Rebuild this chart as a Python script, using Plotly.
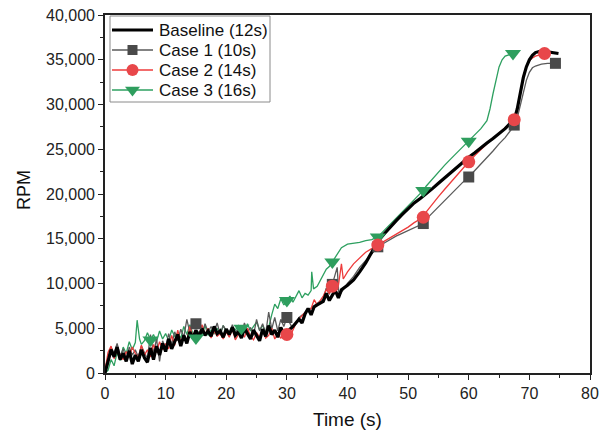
import numpy as np
import plotly.graph_objects as go

# ---------------- data ----------------
t_noisy = [i * 0.5 for i in range(61)]  # 0 .. 30 s

base_t = t_noisy + [31, 32, 32.5, 33, 33.5, 34, 34.5, 35, 36, 36.5, 37, 37.5, 38, 38.5, 39, 40, 41, 42,
                    43, 44, 45, 46, 47, 48, 49, 50, 51, 52, 53, 54, 55, 56, 57, 58, 59, 60, 61, 62,
                    63, 64, 65, 66, 67, 67.5, 68, 68.5, 69, 69.5, 70, 70.5, 71, 72, 73, 74, 74.8]
base_v = [0, 1200, 2600, 1800, 2900, 1500, 2200, 1300, 2500, 1000, 2000, 1300, 2600, 1700, 1200, 2800,
          1500, 3000, 2000, 3300, 2400, 3800, 2700, 3500, 4300, 3000, 4200, 3300, 4600, 3900, 4800,
          4000, 5000, 4200, 4700, 4100, 5200, 4400, 4700, 4000, 4900, 4300, 5100, 4200, 4600, 3900,
          5000, 4400, 3800, 4800, 4200, 3600, 4900, 4100, 5300, 4300, 4800, 4000, 5100, 4400, 4600,
          5200, 6000, 5600, 6600, 7200, 6500, 7400, 7600, 8000, 8900, 8100, 8700, 9200, 8400, 9300,
          9800, 10400, 11300, 12300, 13500, 14700, 15500, 16300, 17000, 17700, 18400, 19000, 19500,
          20000, 20600, 21200, 21800, 22400, 23000, 23500, 24100, 24600, 25200, 25700, 26200, 26700,
          27300, 28000, 28300, 29500, 31500, 33000, 34200, 35000, 35500, 35800, 36000, 35900, 35800,
          35700]

c1_t = t_noisy + [30.5, 31, 32, 33, 34, 35, 36, 36.5, 37, 37.5, 38.3, 38.6, 39, 40, 41, 42, 43, 44, 45,
                  46, 47, 48, 49, 50, 51, 52, 52.5, 53, 54, 55, 56, 57, 58, 59, 60, 61, 62, 63, 64,
                  65, 66, 67, 67.5, 68, 68.5, 69, 69.5, 70, 70.5, 71, 72, 73, 74.3]
c1_v = [500, 1800, 2900, 2200, 3300, 1900, 2700, 1500, 2900, 2000, 2600, 1800, 3000, 2300, 1600, 4300,
        2200, 3800, 1300, 3600, 2800, 4400, 3200, 4600, 3600, 4900, 4000, 6000, 4500, 5900, 5500,
        5800, 4400, 5500, 4600, 5200, 4500, 5600, 4300, 5300, 4700, 4200, 5400, 4500, 5000, 4400,
        5600, 4600, 5100, 4200, 6000, 4700, 5500, 4400, 6800, 4900, 6200, 4700, 6000, 5200, 6200,
        5500, 4900, 6200, 6700, 7300, 7800, 8300, 9500, 8800, 9900, 11800, 8500, 9000, 10000,
        10800, 11800, 12600, 13400, 14100, 14500, 14900, 15300, 15600, 15900, 16200, 16500, 16700,
        17200, 17900, 18600, 19300, 20000, 20600, 21300, 21900, 22600, 23300, 24000, 24800, 25600,
        26300, 27200, 27700, 28500, 29800, 31300, 32700, 33600, 34100, 34300, 34500, 34600, 34600]

c2_t = t_noisy + [30.5, 31, 31.5, 32, 33, 34, 34.5, 35, 36, 36.5, 37, 37.5, 38, 38.5, 39, 39.3, 40, 41,
                  42, 43, 44, 45, 46, 47, 48, 49, 50, 51, 52, 52.5, 53, 54, 55, 56, 57, 58, 59, 60,
                  61, 62, 63, 64, 65, 66, 67, 67.5, 68, 68.5, 69, 69.5, 70, 70.5, 71, 72, 72.5]
c2_v = [300, 2300, 3000, 1600, 2600, 2100, 1500, 2400, 1800, 2900, 2200, 1700, 3100, 2000, 2600, 1800,
        3200, 2300, 3500, 2600, 3300, 2700, 4200, 3100, 4800, 3400, 4200, 3600, 5200, 4000, 4600,
        4200, 5400, 4300, 5000, 3900, 4700, 4100, 4400, 3800, 4600, 4000, 4900, 3700, 4300, 4600,
        4000, 5000, 4100, 3700, 4500, 4000, 4800, 3900, 4200, 5000, 3800, 4400, 3900, 4200, 4300,
        4000, 4800, 5600, 6000, 6800, 7200, 8200, 7600, 8600, 9300, 8900, 9700, 10300, 9800, 12200,
        10500, 11300, 12200, 12900, 13500, 13900, 14300, 14700, 15100, 15500, 15900, 16300, 16800,
        17200, 17400, 18000, 18900, 19700, 20500, 21300, 22100, 22900, 23600, 24300, 25000, 25600,
        26200, 26800, 27400, 28000, 28300, 29500, 31500, 33200, 34300, 34900, 35200, 35400, 35600,
        35700]

c3_t = [0, 0.5, 1, 1.5, 2, 2.5, 3, 3.5, 4, 4.5, 5, 5.3, 5.7, 6, 6.5, 7, 7.5, 8, 8.5, 9, 9.5, 10,
        10.5, 11, 11.5, 12, 12.5, 13, 13.5, 14, 14.5, 15, 15.5, 16, 16.5, 17, 17.5, 18, 18.5, 19,
        19.5, 20, 20.5, 21, 21.5, 22, 22.5, 23, 23.5, 24, 24.5, 25, 25.5, 26, 26.5, 27, 27.5, 28,
        28.5, 29, 29.5, 30, 30.5, 31, 31.5, 32, 32.5, 33, 33.5, 34, 34.1, 34.4, 35, 36, 36.5, 37,
        37.5, 38, 39, 40, 41, 42, 43, 44, 45, 46, 47, 48, 49, 50, 51, 52, 52.5, 53, 54, 55, 56, 57,
        58, 59, 60, 61, 62, 63, 63.5, 64, 64.5, 65, 65.5, 66, 67.3]
c3_v = [0, 300, 1500, 800, 2300, 1400, 2900, 2200, 3500, 2600, 3400, 5900, 3800, 3200, 3600, 4500,
        3700, 4300, 3500, 4700, 3800, 4400, 3600, 4800, 4100, 4500, 3900, 5200, 4300, 5400, 4400,
        3900, 4600, 4300, 5300, 4200, 4800, 4400, 5000, 4300, 5300, 4600, 4400, 5200, 4800, 5300,
        5000, 4500, 5500, 4700, 5200, 5700, 4800, 5300, 4600, 5100, 6500, 7700, 7200, 8300, 7600,
        8100, 8600, 7900, 8500, 9200, 8400, 8900, 8700, 9200, 11300, 9400, 9700, 11000, 11600,
        11900, 12400, 13000, 14000, 14400, 14500, 14600, 14800, 14900, 15200, 15900, 16600, 17300,
        17900, 18600, 19300, 20000, 20400, 20900, 21700, 22500, 23200, 23900, 24600, 25200, 25900,
        26600, 27300, 28200, 29500, 31200, 32800, 34200, 35000, 35400, 35700]

# times at which the symbols are drawn on each case
c1_mark_t = [15, 30, 37.5, 45, 52.5, 60, 67.5, 74.3]
c2_mark_t = [30, 37.5, 45, 52.5, 60, 67.5, 72.5]
c3_mark_t = [7.5, 15, 22.5, 30, 37.5, 45, 52.5, 60, 67.3]

names = ["Baseline (12s)", "Case 1 (10s)", "Case 2 (14s)", "Case 3 (16s)"]

x_ticks = [0, 10, 20, 30, 40, 50, 60, 70, 80]
y_ticks = [0, 5000, 10000, 15000, 20000, 25000, 30000, 35000, 40000]

# ---------------- figure ----------------
FONT = "Liberation Sans, Arial, sans-serif"
W, H = 608, 436
ML, MR, MT, MB = 105, 18, 15, 63
fig = go.Figure()


def pick(ts, vs, mts):
    ts = np.asarray(ts, float)
    vs = np.asarray(vs, float)
    idx = [int(np.argmin(np.abs(ts - m))) for m in mts]
    return ts[idx], vs[idx]


styles = [
    dict(color="#000000", width=3.2, symbol=None, mcolor=None, msize=0),
    dict(color="#5a5a5a", width=1.3, symbol="square", mcolor="#4a4a4a", msize=11),
    dict(color="#ee3b3b", width=1.3, symbol="circle", mcolor="#e8474a", msize=13),
    dict(color="#2ea060", width=1.3, symbol="triangle-down", mcolor="#2e9e5e", msize=14),
]
series = [(base_t, base_v, None), (c1_t, c1_v, c1_mark_t), (c2_t, c2_v, c2_mark_t), (c3_t, c3_v, c3_mark_t)]

order = [3, 1, 2, 0]
for i in order:
    ts, vs, mts = series[i]
    st = styles[i]
    fig.add_trace(go.Scatter(x=ts, y=vs, mode="lines",
                             line=dict(color=st["color"], width=st["width"]),
                             showlegend=False, hoverinfo="skip"))
for i in order:
    ts, vs, mts = series[i]
    st = styles[i]
    if mts is None:
        continue
    mx, my = pick(ts, vs, mts)
    fig.add_trace(go.Scatter(x=mx, y=my, mode="markers",
                             marker=dict(symbol=st["symbol"], size=st["msize"], color=st["mcolor"],
                                         line=dict(width=0)),
                             showlegend=False, hoverinfo="skip", cliponaxis=False))

# ---- legend drawn in a pixel-space overlay axis (x2/y2) ----
leg_left, leg_top, leg_right, leg_bottom = 110, 16, 270, 102
row_y = [30, 50, 70, 90]
line_x0, line_x1, text_x = 112, 153, 157
for i in range(4):
    st = styles[i]
    fig.add_trace(go.Scatter(x=[line_x0, line_x1], y=[row_y[i], row_y[i]], mode="lines",
                             line=dict(color=st["color"], width=st["width"]),
                             xaxis="x2", yaxis="y2", showlegend=False, hoverinfo="skip"))
    if st["symbol"] is not None:
        fig.add_trace(go.Scatter(x=[(line_x0 + line_x1) / 2], y=[row_y[i]], mode="markers",
                                 marker=dict(symbol=st["symbol"], size=st["msize"] - 1,
                                             color=st["mcolor"], line=dict(width=0)),
                                 xaxis="x2", yaxis="y2", showlegend=False, hoverinfo="skip"))
    fig.add_annotation(x=text_x, y=row_y[i], xref="x2", yref="y2", text=names[i],
                       showarrow=False, xanchor="left", yanchor="middle",
                       font=dict(family=FONT, size=17, color="#111111"))
fig.add_shape(type="rect", xref="x2", yref="y2", x0=leg_left, x1=leg_right, y0=leg_top, y1=leg_bottom,
              line=dict(color="#8a8a8a", width=1), fillcolor="rgba(0,0,0,0)", layer="above")

axis_common = dict(showgrid=False, zeroline=False, showline=True, linecolor="#222222",
                   linewidth=1.6, mirror=True, ticks="outside", ticklen=5, tickwidth=1.4,
                   tickcolor="#222222", automargin=False,
                   tickfont=dict(family=FONT, size=16, color="#222222"))

fig.update_layout(
    xaxis=dict(range=[0, 80], tickvals=x_ticks,
               minor=dict(ticks="outside", ticklen=3, tickwidth=1.2, dtick=5, tick0=0,
                          tickcolor="#222222"),
               **axis_common),
    yaxis=dict(range=[0, 40000], tickvals=y_ticks, tickformat=",d",
               minor=dict(ticks="outside", ticklen=3, tickwidth=1.2, dtick=2500, tick0=0,
                          tickcolor="#222222"),
               **axis_common),
    xaxis2=dict(overlaying="x", range=[ML, W - MR], visible=False, fixedrange=True),
    yaxis2=dict(overlaying="y", range=[H - MB, MT], visible=False, fixedrange=True),
    width=W, height=H,
    margin=dict(l=ML, r=MR, t=MT, b=MB, autoexpand=False),
    paper_bgcolor="white", plot_bgcolor="white",
    font=dict(family=FONT, size=16, color="#111111"),
    showlegend=False,
)

# axis titles
fig.add_annotation(text="Time (s)", xref="paper", yref="paper",
                   x=(347 - ML) / (W - ML - MR), y=-(419 - (H - MB)) / (H - MT - MB),
                   showarrow=False, xanchor="center", yanchor="middle",
                   font=dict(family=FONT, size=19, color="#111111"))
fig.add_annotation(text="RPM", xref="paper", yref="paper",
                   x=-(ML - 24) / (W - ML - MR), y=((H - MB) - 190) / (H - MT - MB),
                   showarrow=False, xanchor="center", yanchor="middle", textangle=-90,
                   font=dict(family=FONT, size=18, color="#111111"))

fig.write_html("out.html", config={"displayModeBar": False},
               post_script="document.body.style.margin='0';document.body.style.padding='0';")
